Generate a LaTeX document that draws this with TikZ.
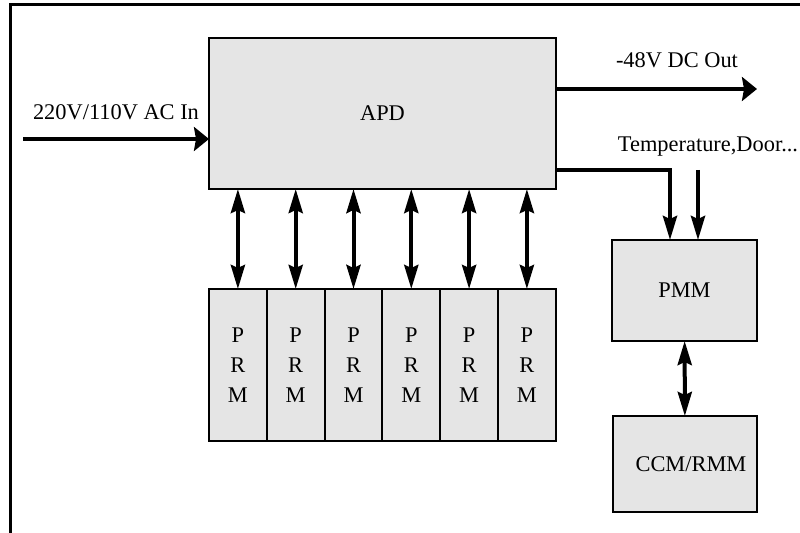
\documentclass[tikz,border=0pt]{standalone}
\usepackage{fontspec}
\setmainfont{Liberation Serif}
\usetikzlibrary{arrows.meta, positioning}
\tikzstyle{bus} = [line width=2pt, -{Stealth[length=12pt, width=7pt, inset=1.5pt]}]
\tikzstyle{hbus} = [line width=2pt, -{Stealth[length=7.5pt, width=12pt, inset=1pt]}]
\tikzstyle{bibus} = [line width=2pt, {Stealth[length=12pt, width=7pt, inset=1.5pt]}-{Stealth[length=12pt, width=7pt, inset=1.5pt]}]

\begin{document}
\begin{tikzpicture}[x=0.5pt, y=-0.5pt,
      block/.style={rectangle, draw=black, line width=1pt, fill=gray!20, outer sep=0pt, inner sep=0pt, align=center, font=\fontsize{11.2}{15}\selectfont},
      prm/.style={block, minimum width=28.9pt, minimum height=76pt},
      txt/.style={inner sep=0pt, font=\fontsize{11.2}{13}\selectfont},
      frame/.style={line width=1.5pt},
    ]
    \useasboundingbox (0,0) rectangle (800,533);

    % Frame
    \draw[frame] (10,533) -- (10,5) -- (800,5);

    % Nodes
    \node[block, minimum width=173.5pt, minimum height=75.5pt] (APD) at (382.5,113.5) {APD};
    \node[prm, anchor=north west] (prm1) at (209,289) {P\\R\\M};
    \foreach \i [remember=\i as \j (initially 1)] in {2,...,6}
      \node[prm, right=0pt of prm\j] (prm\i) {P\\R\\M};
    \node[block, minimum width=72.5pt, minimum height=50.5pt] (PMM) at (684.5,290.5) {PMM};
    \node[block, minimum width=72pt, minimum height=48pt] (CCM) at (685,464) {\hspace*{6pt}CCM/RMM};

    % Labels
    \node[txt] (acinlbl) at (116,112) {220V/110V AC In};
    \node[txt] (dcoutlbl) at (677,60) {-48V DC Out};
    \node[txt] (senslbl) at (708,147) {Temperature,Door...};

    % Edges
    \coordinate (acin) at (23,139);
    \coordinate (dcout) at (757,89);
    \coordinate (sens) at (698,170);
    \draw[hbus] (acin) -- (acin -| APD.west);
    \draw[hbus] (APD.east |- dcout) -- (dcout);
    \draw[bus] (APD.east |- sens) -| ([xshift=-7.25pt]PMM.north);
    \draw[bus] (sens) -- (sens |- PMM.north);
    \draw[bibus] (PMM) -- (CCM);
    \foreach \i in {1,...,6}
      \draw[bibus] (prm\i.north |- APD.south) -- (prm\i);

  \end{tikzpicture}
\end{document}
